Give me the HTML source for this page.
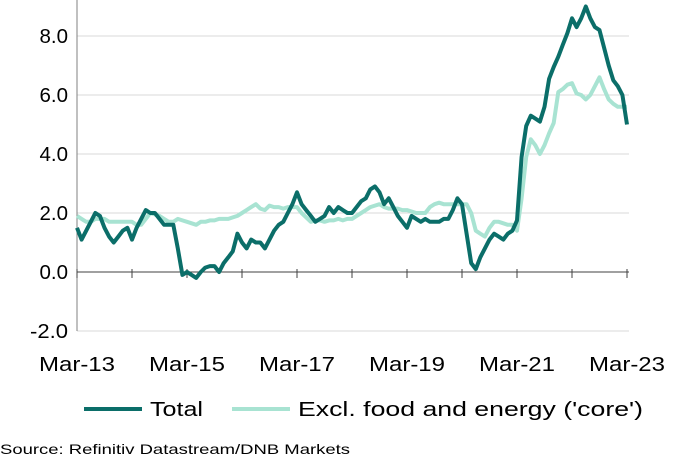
<!DOCTYPE html>
<html><head><meta charset="utf-8">
<style>
body{margin:0;background:#fff;width:680px;height:461px;overflow:hidden;font-family:"Liberation Sans",Arial,sans-serif;}
svg text{font-family:"Liberation Sans",Arial,sans-serif;}
</style></head>
<body>
<svg id="chart" width="680" height="461"></svg>
<script>
const yTicks=[8,6,4,2,0,-2];
const yTickLabels=["8.0","6.0","4.0","2.0","0.0","-2.0"];
const xTickLabels=["Mar-13","Mar-15","Mar-17","Mar-19","Mar-21","Mar-23"];
const xTickMonths=[0,24,48,72,96,120];
const totalValues=[1.5,1.1,1.4,1.7,2.0,1.9,1.5,1.2,1.0,1.2,1.4,1.5,
1.1,1.5,1.8,2.1,2.0,2.0,1.8,1.6,1.6,1.6,
0.8,-0.1,0.0,-0.1,-0.2,0.0,0.15,0.2,0.2,
0.0,0.3,0.5,0.7,1.3,1.0,0.8,1.1,1.0,1.0,
0.8,1.1,1.4,1.6,1.7,2.0,2.3,2.7,
2.3,2.1,1.9,1.7,1.8,1.9,2.2,2.0,2.2,2.1,2.0,
2.0,2.2,2.4,2.5,2.8,2.9,2.7,2.3,2.5,
2.2,1.9,1.7,1.5,
1.9,1.8,1.7,1.8,1.7,1.7,1.7,
1.8,1.8,2.1,2.5,2.3,1.3,0.3,0.1,
0.5,0.8,1.1,1.3,1.2,1.1,1.3,1.4,1.75,3.9,4.95,5.3,5.2,5.1,5.6,6.55,6.95,7.3,7.7,8.1,8.6,8.3,8.6,9.0,8.6,8.3,8.2,7.6,7.0,6.5,6.3,6.0,5.0];
const coreValues=[1.9,1.8,1.7,1.7,1.8,1.8,1.8,1.7,1.7,1.7,1.7,1.7,
1.7,1.6,1.6,1.8,2.0,1.95,1.9,1.8,1.7,1.7,
1.8,1.75,1.7,1.65,1.6,1.7,1.7,1.75,1.75,
1.8,1.8,1.8,1.85,1.9,2.0,2.1,2.2,2.3,
2.15,2.1,2.25,2.2,2.2,2.15,2.2,2.2,2.2,2.0,
1.85,1.7,1.75,1.75,1.7,1.75,1.75,1.8,1.75,1.8,1.8,
1.9,2.0,2.1,2.2,2.25,2.3,2.2,2.15,2.15,2.15,2.1,2.1,
2.05,2.0,2.0,2.0,2.2,2.3,2.35,2.3,2.3,2.3,2.3,2.3,2.3,
2.0,1.4,1.3,1.2,1.5,1.7,1.7,1.65,1.6,1.6,1.4,
2.5,3.9,4.5,4.3,4.0,4.3,4.7,5.05,6.1,6.2,6.35,6.4,6.05,6.0,5.85,6.0,6.3,6.6,6.2,5.85,5.7,5.6,5.6,5.6];

const NS="http://www.w3.org/2000/svg";
const svg=document.getElementById('chart');
const x=m=>77+m*55/12;
const y=v=>272-v*29.5;
function mk(tag,attrs,parent){const e=document.createElementNS(NS,tag);for(const k in attrs)e.setAttribute(k,attrs[k]);(parent||svg).appendChild(e);return e;}

yTicks.forEach((t,i)=>{
  if(t!==0){const g=mk('line',{x1:77,x2:629,y1:y(t),y2:y(t),stroke:'#d9d9d9','stroke-width':1});
  
  }
  const tx=mk('text',{x:68,y:y(t)+7,'text-anchor':'end','font-size':20,fill:'#000',textLength:(yTickLabels[i].length*9.5),lengthAdjust:'spacingAndGlyphs'});
  tx.textContent=yTickLabels[i];
  
  
});
const ax=mk('line',{x1:77,x2:77,y1:0,y2:y(-2),stroke:'#808080','stroke-width':1});


const zl=mk('line',{x1:77,x2:629,y1:y(0),y2:y(0),stroke:'#404040','stroke-width':1});


for(let m=0;m<=120;m+=12){
  const tk=mk('line',{x1:x(m),x2:x(m),y1:y(0)-3,y2:y(0)+6,stroke:'#404040','stroke-width':1});
  
  
}
xTickLabels.forEach((l,i)=>{
  const tx=mk('text',{x:x(xTickMonths[i]),y:371,'text-anchor':'middle','font-size':20,fill:'#000',textLength:76,lengthAdjust:'spacingAndGlyphs'});
  tx.textContent=l;
  
  
});
function series(vals,color,name){
  const d=vals.map((v,i)=>(i?'L':'M')+x(i).toFixed(1)+' '+y(v).toFixed(1)).join(' ');
  const p=mk('path',{d:d,fill:'none',stroke:color,'stroke-width':4,'stroke-linejoin':'round'});
  
  
}
series(coreValues,'#a8e3d2','core-line');
series(totalValues,'#0b6e69','total-line');

const l1=mk('line',{x1:84,x2:142,y1:409,y2:409,stroke:'#0b6e69','stroke-width':4});


const t1=mk('text',{x:150,y:416,'font-size':20,fill:'#000',textLength:53,lengthAdjust:'spacingAndGlyphs'});t1.textContent='Total';


const l2=mk('line',{x1:232,x2:290,y1:409,y2:409,stroke:'#a8e3d2','stroke-width':4});


const t2=mk('text',{x:298,y:416,'font-size':20,fill:'#000',textLength:345,lengthAdjust:'spacingAndGlyphs'});t2.textContent="Excl. food and energy ('core')";


const src=mk('text',{x:0,y:454,'font-size':14,fill:'#000',textLength:350,lengthAdjust:'spacingAndGlyphs'});src.textContent='Source:  Refinitiv Datastream/DNB Markets';


</script>
</body></html>
